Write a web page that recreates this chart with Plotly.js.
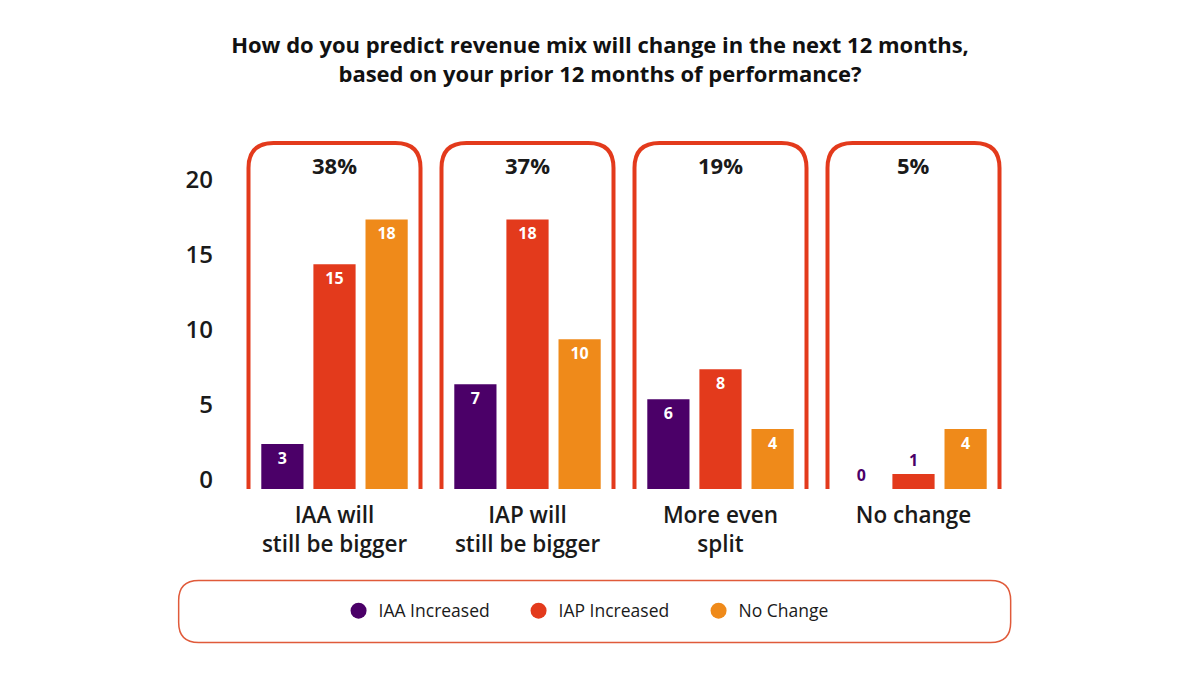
<!DOCTYPE html>
<html>
<head>
<meta charset="utf-8">
<script src="https://cdn.plot.ly/plotly-3.0.1.min.js"></script>
<style>
  body { margin: 0; background: #fff; }
  #chart { width: 1200px; height: 675px; }
</style>
</head>
<body>
<div id="chart"></div>
<script>
// categories and their share of respondents
let categories = ["IAA will<br>still be bigger", "IAP will<br>still be bigger", "More even<br>split", "No change"];
let shares = ["38%", "37%", "19%", "5%"];

// series values
let iaaIncreased = [3, 7, 6, 0];
let iapIncreased = [15, 18, 8, 1];
let noChange = [18, 10, 4, 4];

let yTicks = [0, 5, 10, 15, 20];

let seriesNames = ["IAA Increased", "IAP Increased", "No Change"];
let seriesColors = ["#4b0068", "#e33a1c", "#ef8a1a"];
let seriesValues = [iaaIncreased, iapIncreased, noChange];

let xs = categories.map((c, i) => i);
let font = "'Open Sans', 'DejaVu Sans', sans-serif";

let data = [];
seriesValues.forEach((vals, k) => {
  data.push({
    type: "bar",
    x: xs,
    y: vals,
    name: seriesNames[k],
    marker: { color: seriesColors[k] },
    text: vals.map(String),
    // zero bars need an explicit outside label
    textposition: vals.map(v => v === 0 ? "outside" : "auto"),
    insidetextanchor: "end",
    insidetextfont: { color: "#ffffff", size: 16, family: font, weight: 700 },
    outsidetextfont: { color: "#4b0068", size: 16, family: font, weight: 700 },
    constraintext: "none",
    cliponaxis: false,
    showlegend: false,
    hoverinfo: "x+y"
  });
});

// legend entries drawn as round markers (on the label axis so it is drawn)
seriesNames.forEach((n, k) => {
  data.push({
    type: "scatter",
    mode: "markers",
    x: [null],
    y: [null],
    yaxis: "y2",
    name: n,
    marker: { color: seriesColors[k], size: 17, symbol: "circle" },
    showlegend: true
  });
});

// open-bottom rounded boxes around each group, in pixels from the group base
let boxPath = "M -86 0 L -86 321 Q -86 346 -61 346 L 61 346 Q 86 346 86 321 L 86 0";
let shapes = xs.map(i => ({
  type: "path",
  xref: "x", yref: "y",
  xsizemode: "pixel", ysizemode: "pixel",
  xanchor: i, yanchor: 0,
  path: boxPath,
  line: { color: "#e33a1c", width: 4 },
  layer: "below"
}));

// legend frame
shapes.push({
  type: "path",
  xref: "paper", yref: "paper",
  xsizemode: "pixel", ysizemode: "pixel",
  xanchor: 0.462, yanchor: -0.348,
  path: "M -396 -31 L 396 -31 Q 416 -31 416 -11 L 416 11 Q 416 31 396 31 L -396 31 Q -416 31 -416 11 L -416 -11 Q -416 -31 -396 -31 Z",
  line: { color: "#e05a3a", width: 1.5 },
  layer: "below"
});

let annotations = xs.map(i => ({
  x: i, y: 21.6,
  xref: "x", yref: "y",
  text: shares[i],
  showarrow: false,
  font: { family: font, size: 22, color: "#1a1a1a", weight: 700 }
}));

let layout = {
  width: 1200,
  height: 675,
  paper_bgcolor: "#ffffff",
  plot_bgcolor: "#ffffff",
  margin: { l: 238, r: 190, t: 136.5, b: 186 },
  font: { family: font, color: "#1a1a1a" },
  title: {
    text: "How do you predict revenue mix will change in the next 12 months,<br>based on your prior 12 months of performance?",
    x: 0.5, xref: "container",
    y: 0.921, yref: "container", yanchor: "middle",
    font: { family: font, size: 22, color: "#111111", weight: 700 }
  },
  barmode: "group",
  bargap: 0.19,
  bargroupgap: 0.19,
  xaxis: {
    range: [-0.5, 3.5],
    tickvals: xs,
    ticktext: categories,
    showgrid: false, zeroline: false, showline: false,
    ticks: "",
    ticklabelstandoff: 10,
    tickfont: { family: font, size: 22.5, color: "#1a1a1a", weight: 600 },
    fixedrange: true
  },
  yaxis: {
    range: [0, 23.5],
    showticklabels: false,
    showgrid: false, zeroline: false, showline: false,
    ticks: "",
    fixedrange: true
  },
  // tick labels sit slightly above the bar base, as in the source
  yaxis2: {
    overlaying: "y",
    side: "left",
    range: [-0.65, 22.85],
    tickvals: yTicks,
    showgrid: false, zeroline: false, showline: false,
    ticks: "",
    ticklabelstandoff: 24,
    tickfont: { family: font, size: 24, color: "#1a1a1a", weight: 600 },
    fixedrange: true
  },
  legend: {
    orientation: "h",
    x: 0.48, xanchor: "center",
    y: -0.346, yanchor: "middle",
    entrywidth: 135,
    font: { family: font, size: 17.5, color: "#1a1a1a", weight: 500 },
    itemclick: false,
    itemdoubleclick: false
  },
  shapes: shapes,
  annotations: annotations
};

Plotly.newPlot("chart", data, layout, { displayModeBar: false, staticPlot: true });
</script>
</body>
</html>
